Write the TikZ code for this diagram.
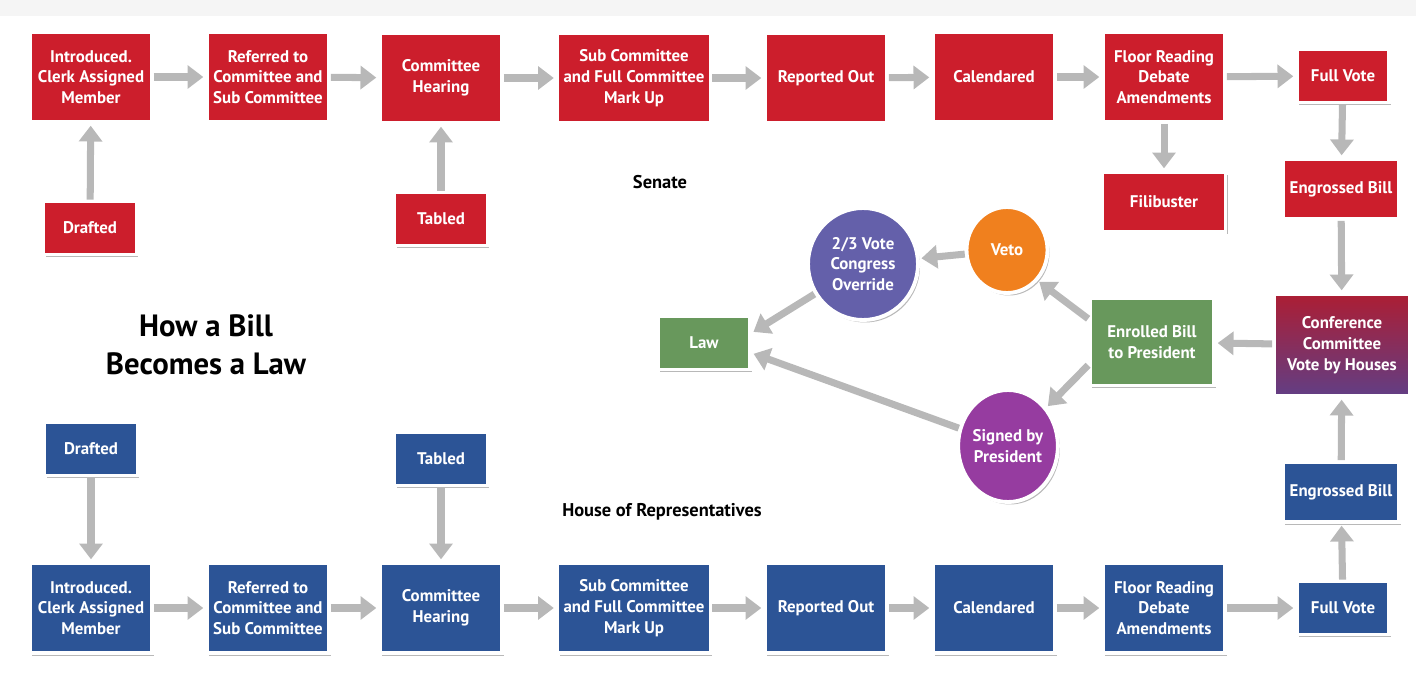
\documentclass[tikz,border=0pt]{standalone}
\usepackage{fontspec}
\setmainfont{PT Sans}
\usetikzlibrary{arrows.meta,shapes.geometric,shadows}
\definecolor{senred}{RGB}{204,30,44}
\definecolor{horblue}{RGB}{44,84,150}
\definecolor{lawgreen}{RGB}{104,152,92}
\definecolor{ovrpurple}{RGB}{100,96,170}
\definecolor{vetoorange}{RGB}{240,128,30}
\definecolor{signpurple}{RGB}{150,60,160}
\definecolor{conftop}{RGB}{172,30,52}
\definecolor{confbot}{RGB}{98,62,132}
\definecolor{flowgray}{RGB}{184,184,184}
\tikzset{
  stage/.style={rectangle, draw=white, line width=2.2pt, text=white,
                font=\bfseries\fontsize{9.6}{11.8}\selectfont, align=center,
                inner sep=1pt, minimum width=2.44cm, minimum height=1.8cm,
                drop shadow={shadow xshift=0.4mm, shadow yshift=-0.5mm,
                             opacity=0.28, fill=black}},
  sen/.style={stage, fill=senred},
  hor/.style={stage, fill=horblue},
  grn/.style={stage, fill=lawgreen},
  wide/.style={minimum width=3.06cm},
  small/.style={minimum width=1.84cm, minimum height=1.06cm},
  mid/.style={minimum width=2.4cm, minimum height=1.2cm},
  pres/.style={stage, ellipse, inner sep=0pt},
  lbl/.style={font=\bfseries\fontsize{10.5}{12}\selectfont},
  flow/.style={draw=flowgray, line width=4pt,
               -{Triangle[length=9pt,width=13pt]}, shorten >=1pt}
}
\begin{document}
\begin{tikzpicture}[x=0.02cm, y=-0.02cm]
\useasboundingbox (0,0) rectangle (1416,673);
\fill[black!4] (0,0) rectangle (1416,16);
% Senate
\node[sen] (sintro) at (91,77) {Introduced.\\Clerk Assigned\\Member};
\node[sen] (sref) at (268,77) {Referred to\\Committee and\\Sub Committee};
\node[sen] (shear) at (441,78) {Committee\\Hearing};
\node[sen, wide] (ssub) at (634,78) {Sub Committee\\and Full Committee\\Mark Up};
\node[sen] (srep) at (826,78) {Reported Out};
\node[sen] (scal) at (994,77) {Calendared};
\node[sen] (sfloor) at (1164,77) {Floor Reading\\Debate\\Amendments};
\node[sen, small] (svote) at (1343,76) {Full Vote};
\node[sen, small, minimum width=1.86cm] (sdraft) at (90,228) {Drafted};
\node[sen, small, minimum width=1.86cm] (stab) at (441,219) {Tabled};
\node[sen, mid, minimum width=2.46cm] (sfili) at (1164,202) {Filibuster};
\node[sen, mid, minimum width=2.32cm] (seng) at (1341,189) {Engrossed Bill};
\node[lbl] (senlbl) at (660,182) {Senate};
% President and Congress
\node[stage, top color=conftop, bottom color=confbot, minimum width=2.72cm,
      minimum height=2.04cm] (conf) at (1342,345) {Conference\\Committee\\Vote by Houses};
\node[grn, minimum width=2.48cm, minimum height=1.74cm] (enr) at (1152,342) {Enrolled Bill\\to President};
\node[grn, small] (law) at (704,343) {Law};
\node[pres, fill=vetoorange, minimum width=1.62cm, minimum height=1.72cm] (veto) at (1007,250) {Veto};
\node[pres, fill=ovrpurple, minimum width=2.2cm, minimum height=2.24cm] (ovr) at (863,264) {2/3 Vote\\Congress\\Override};
\node[pres, fill=signpurple, minimum width=1.94cm, minimum height=2.24cm] (sign) at (1008,446) {Signed by\\President};
\node[font=\bfseries\fontsize{17.5}{21.5}\selectfont, align=center] (title) at (206,345) {How a Bill\\Becomes a Law};
% House
\node[hor, small, minimum width=1.86cm] (hdraft) at (91,449) {Drafted};
\node[hor, small, minimum width=1.86cm] (htab) at (441,459) {Tabled};
\node[hor] (hintro) at (91,608) {Introduced.\\Clerk Assigned\\Member};
\node[hor] (href) at (268,608) {Referred to\\Committee and\\Sub Committee};
\node[hor] (hhear) at (441,608) {Committee\\Hearing};
\node[hor, wide] (hsub) at (634,608) {Sub Committee\\and Full Committee\\Mark Up};
\node[hor] (hrep) at (826,608) {Reported Out};
\node[hor] (hcal) at (994,608) {Calendared};
\node[hor] (hfloor) at (1164,608) {Floor Reading\\Debate\\Amendments};
\node[hor, small] (hvote) at (1343,608) {Full Vote};
\node[hor, mid, minimum width=2.32cm] (heng) at (1341,492) {Engrossed Bill};
\node[lbl] (horlbl) at (662,512) {House of Representatives};
% connectors
\draw[flow] (sintro) -- (sref);
\draw[flow] (sref) -- (shear);
\draw[flow] (shear) -- (ssub);
\draw[flow] (ssub) -- (srep);
\draw[flow] (srep) -- (scal);
\draw[flow] (scal) -- (sfloor);
\draw[flow] (sfloor) -- (svote);
\draw[flow] (sdraft) -- (sintro);
\draw[flow] (stab) -- (shear);
\draw[flow] (sfloor) -- (sfili);
\draw[flow] (svote) -- (seng);
\draw[flow] (seng) -- (conf);
\draw[flow] (conf) -- (enr);
\draw[flow] (enr.160) -- (veto.-45);
\draw[flow] (enr.200) -- (sign.45);
\draw[flow] (veto) -- (ovr);
\draw[flow] (ovr) -- (law.12);
\draw[flow] (sign) -- (law.-12);
\draw[flow] (hdraft) -- (hintro);
\draw[flow] (htab) -- (hhear);
\draw[flow] (hintro) -- (href);
\draw[flow] (href) -- (hhear);
\draw[flow] (hhear) -- (hsub);
\draw[flow] (hsub) -- (hrep);
\draw[flow] (hrep) -- (hcal);
\draw[flow] (hcal) -- (hfloor);
\draw[flow] (hfloor) -- (hvote);
\draw[flow] (hvote) -- (heng);
\draw[flow] (heng) -- (conf);
\end{tikzpicture}
\end{document}
